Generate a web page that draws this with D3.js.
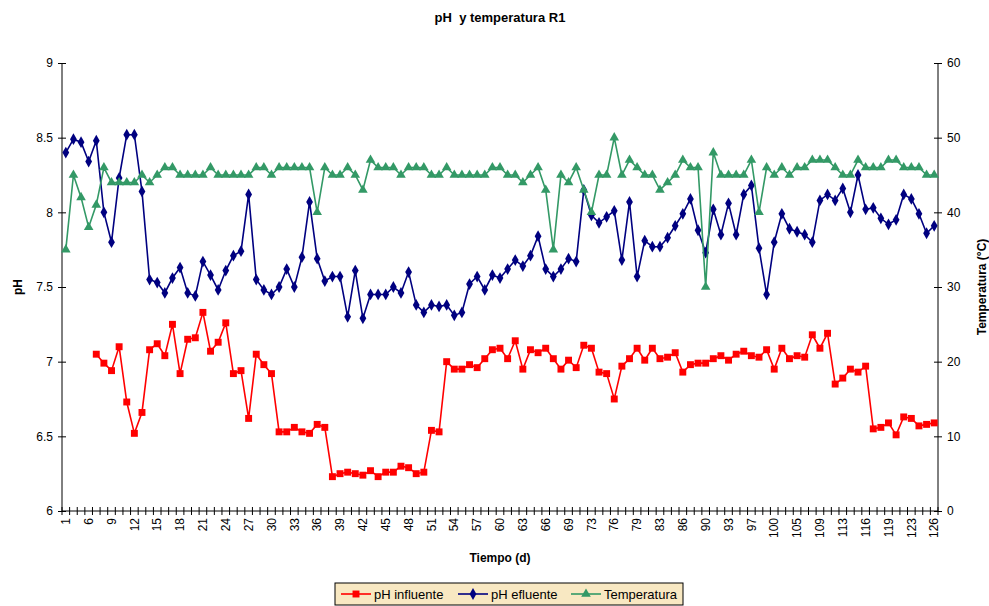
<!DOCTYPE html>
<html>
<head>
<meta charset="utf-8">
<script src="https://cdn.jsdelivr.net/npm/d3@7"></script>
<style>
  body { margin: 0; background: #fff; }
  svg { font-family: Arial, "Liberation Sans", sans-serif; }
</style>
</head>
<body>
<div id="chart"></div>
<script>
// day of each sample (category axis)
var days = [1, 4, 5, 6, 7, 8, 9, 10, 11, 12, 13, 14, 15, 16, 17, 18, 19, 20, 21, 22,
  23, 24, 25, 26, 27, 28, 29, 30, 31, 32, 33, 34, 35, 36, 37, 38, 39, 40, 41, 42,
  43, 44, 45, 46, 47, 48, 49, 50, 51, 52, 53, 54, 55, 56, 57, 58, 59, 60, 61, 62,
  63, 64, 65, 66, 67, 68, 69, 70, 72, 73, 74, 75, 76, 77, 78, 79, 80, 82, 83, 84,
  85, 86, 87, 89, 90, 91, 92, 93, 94, 96, 97, 98, 99, 100, 102, 103, 105, 106, 108, 109,
  110, 112, 113, 114, 115, 116, 117, 118, 119, 120, 122, 123, 124, 125, 126];

var phInfluente = [null, null, null, null, 7.05, 6.99, 6.94, 7.10, 6.73, 6.52,
  6.66, 7.08, 7.12, 7.04, 7.25, 6.92, 7.15, 7.16, 7.33, 7.07,
  7.13, 7.26, 6.92, 6.94, 6.62, 7.05, 6.98, 6.92, 6.53, 6.53,
  6.56, 6.53, 6.52, 6.58, 6.56, 6.23, 6.25, 6.26, 6.25, 6.24,
  6.27, 6.23, 6.26, 6.26, 6.30, 6.29, 6.25, 6.26, 6.54, 6.53,
  7.00, 6.95, 6.95, 6.98, 6.96, 7.02, 7.08, 7.09, 7.02, 7.14,
  6.95, 7.08, 7.06, 7.09, 7.02, 6.95, 7.01, 6.96, 7.11, 7.09,
  6.93, 6.92, 6.75, 6.97, 7.02, 7.09, 7.01, 7.09, 7.02, 7.03,
  7.06, 6.93, 6.98, 6.99, 6.99, 7.02, 7.04, 7.01, 7.05, 7.07,
  7.04, 7.03, 7.08, 6.95, 7.09, 7.02, 7.04, 7.03, 7.18, 7.09,
  7.19, 6.85, 6.89, 6.95, 6.93, 6.97, 6.55, 6.56, 6.59, 6.51,
  6.63, 6.62, 6.57, 6.58, 6.59];

var phEfluente = [8.40, 8.49, 8.47, 8.34, 8.48, 8.00, 7.80, 8.23, 8.52, 8.52,
  8.14, 7.55, 7.53, 7.46, 7.56, 7.63, 7.46, 7.44, 7.67, 7.58,
  7.48, 7.61, 7.71, 7.74, 8.12, 7.55, 7.48, 7.45, 7.50, 7.62,
  7.50, 7.70, 8.07, 7.69, 7.54, 7.57, 7.57, 7.30, 7.61, 7.29,
  7.45, 7.45, 7.45, 7.50, 7.46, 7.60, 7.38, 7.33, 7.38, 7.37,
  7.38, 7.31, 7.33, 7.52, 7.57, 7.48, 7.58, 7.56, 7.62, 7.68,
  7.64, 7.71, 7.84, 7.62, 7.57, 7.62, 7.69, 7.67, 8.15, 7.98,
  7.93, 7.97, 8.01, 7.68, 8.07, 7.57, 7.81, 7.77, 7.77, 7.83,
  7.91, 7.99, 8.09, 7.88, 7.73, 8.02, 7.85, 8.06, 7.85, 8.12,
  8.18, 7.76, 7.45, 7.80, 7.99, 7.89, 7.87, 7.85, 7.80, 8.08,
  8.12, 8.08, 8.16, 8.00, 8.25, 8.02, 8.03, 7.96, 7.92, 7.95,
  8.12, 8.09, 7.99, 7.86, 7.91];

var temperatura = [35, 45, 42, 38, 41, 46, 44, 44, 44, 44,
  45, 44, 45, 46, 46, 45, 45, 45, 45, 46,
  45, 45, 45, 45, 45, 46, 46, 45, 46, 46,
  46, 46, 46, 40, 46, 45, 45, 46, 45, 43,
  47, 46, 46, 46, 45, 46, 46, 46, 45, 45,
  46, 45, 45, 45, 45, 45, 46, 46, 45, 45,
  44, 45, 46, 43, 35, 45, 44, 46, 43, 40,
  45, 45, 50, 45, 47, 46, 45, 45, 43, 44,
  45, 47, 46, 46, 30, 48, 45, 45, 45, 45,
  47, 40, 46, 45, 46, 45, 46, 46, 47, 47,
  47, 46, 45, 45, 47, 46, 46, 46, 47, 47,
  46, 46, 46, 45, 45];

var phTicks = [6, 6.5, 7, 7.5, 8, 8.5, 9];
var tempTicks = [0, 10, 20, 30, 40, 50, 60];

var W = 989, H = 606;
var plot = { left: 62, right: 938, top: 63, bottom: 511 };

var svg = d3.select('#chart').append('svg')
    .attr('width', W)
    .attr('height', H);

var x = d3.scaleBand()
    .domain(days)
    .range([plot.left, plot.right]);
var bw = x.bandwidth();
function cx(i) { return x(days[i]) + bw / 2; }

var yL = d3.scaleLinear().domain([6, 9]).range([plot.bottom, plot.top]);
var yR = d3.scaleLinear().domain([0, 60]).range([plot.bottom, plot.top]);

// title (double space kept)
svg.append('text')
    .attr('x', 500).attr('y', 22)
    .attr('text-anchor', 'middle')
    .style('white-space', 'pre')
    .style('font-size', '13px').style('font-weight', 'bold')
    .text('pH  y temperatura R1');

// left axis
var gL = svg.append('g')
    .attr('transform', 'translate(' + plot.left + ',0)')
    .call(d3.axisLeft(yL).tickValues(phTicks).tickSize(4).tickFormat(function (d) { return d; }));
gL.selectAll('.tick line').attr('x2', 4).attr('x1', -4);
gL.selectAll('.tick text').attr('x', -9).style('font-size', '12px');

// right axis
var gR = svg.append('g')
    .attr('transform', 'translate(' + plot.right + ',0)')
    .call(d3.axisRight(yR).tickValues(tempTicks).tickSize(4));
gR.selectAll('.tick line').attr('x1', -4).attr('x2', 4);
gR.selectAll('.tick text').attr('x', 9).style('font-size', '12px');

[gL, gR].forEach(function (g) {
    g.select('.domain').attr('d', 'M0,' + plot.top + 'V' + plot.bottom);
    g.selectAll('line, path').attr('stroke', '#000');
    g.selectAll('text').attr('fill', '#000').style('font-family', 'Arial, "Liberation Sans", sans-serif');
});

// bottom axis: labels every 3rd category
var labelDays = days.filter(function (d, i) { return i % 3 === 0; });
var gX = svg.append('g')
    .attr('transform', 'translate(0,' + plot.bottom + ')')
    .call(d3.axisBottom(x).tickValues(labelDays).tickSize(0));
gX.select('.domain').attr('stroke', '#000').attr('d', 'M' + plot.left + ',0H' + plot.right);
gX.selectAll('.tick text')
    .attr('transform', 'rotate(-90)')
    .attr('x', -7).attr('y', 0).attr('dy', '0.35em')
    .style('text-anchor', 'end')
    .style('font-size', '12px')
    .style('font-family', 'Arial, "Liberation Sans", sans-serif')
    .attr('fill', '#000');

// category boundary ticks
var bounds = days.map(function (d) { return x(d); }).concat([plot.right]);
svg.append('g').selectAll('line')
    .data(bounds)
    .enter().append('line')
    .attr('x1', function (d) { return d; })
    .attr('x2', function (d) { return d; })
    .attr('y1', plot.bottom - 4)
    .attr('y2', plot.bottom + 4)
    .attr('stroke', '#000');

// axis titles
svg.append('text')
    .attr('transform', 'translate(22,287) rotate(-90)')
    .attr('text-anchor', 'middle')
    .style('font-size', '12px').style('font-weight', 'bold')
    .text('pH');
svg.append('text')
    .attr('transform', 'translate(986,287) rotate(-90)')
    .attr('text-anchor', 'middle')
    .style('font-size', '12px').style('font-weight', 'bold')
    .text('Temperatura (°C)');
svg.append('text')
    .attr('x', 500).attr('y', 562)
    .attr('text-anchor', 'middle')
    .style('font-size', '12px').style('font-weight', 'bold')
    .text('Tiempo (d)');

// series
var series = [
    { name: 'pH influente', values: phInfluente, y: yL, color: '#FF0000', shape: d3.symbolSquare, size: 48 },
    { name: 'pH efluente', values: phEfluente, y: yL, color: '#000080', shape: d3.symbolDiamond, size: 40 },
    { name: 'Temperatura', values: temperatura, y: yR, color: '#339966', shape: d3.symbolTriangle, size: 40 }
];

series.forEach(function (s) {
    var line = d3.line()
        .defined(function (d) { return d != null; })
        .x(function (d, i) { return cx(i); })
        .y(function (d) { return s.y(d); });
    svg.append('path')
        .datum(s.values)
        .attr('fill', 'none')
        .attr('stroke', s.color)
        .attr('stroke-width', 1.6)
        .attr('d', line);
    svg.append('g').selectAll('path')
        .data(s.values.map(function (v, i) { return { v: v, i: i }; })
            .filter(function (d) { return d.v != null; }))
        .enter().append('path')
        .attr('d', d3.symbol().type(s.shape).size(s.size))
        .attr('transform', function (d) { return 'translate(' + cx(d.i) + ',' + s.y(d.v) + ')'; })
        .attr('fill', s.color);
});

// legend
var lg = svg.append('g').attr('transform', 'translate(335,583)');
lg.append('rect')
    .attr('width', 348).attr('height', 22)
    .attr('fill', '#F8E8C2').attr('stroke', '#000');
var legX = [6, 123, 236];
series.forEach(function (s, i) {
    var g = lg.append('g').attr('transform', 'translate(' + legX[i] + ',11)');
    g.append('line').attr('x1', 0).attr('x2', 30).attr('stroke', s.color).attr('stroke-width', 1.6);
    g.append('path')
        .attr('d', d3.symbol().type(s.shape).size(s.size))
        .attr('transform', 'translate(15,0)')
        .attr('fill', s.color);
    g.append('text')
        .attr('x', 33).attr('dy', '0.35em')
        .style('font-size', '13px')
        .text(s.name);
});
</script>
</body>
</html>
